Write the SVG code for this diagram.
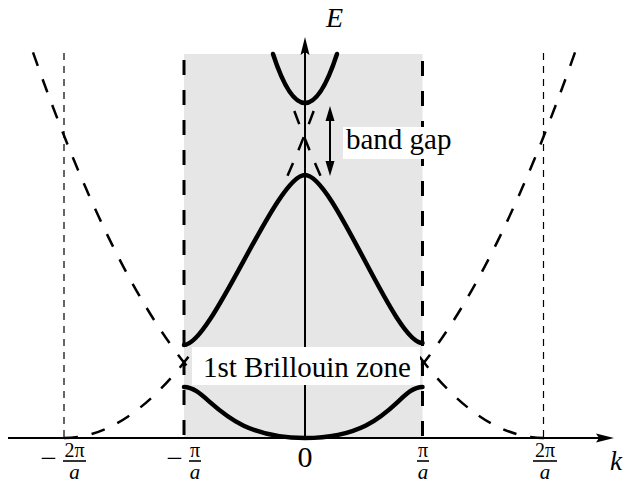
<svg xmlns="http://www.w3.org/2000/svg" width="623" height="483" viewBox="0 0 623 483">
<style>
.t{font-family:"Liberation Serif","Times New Roman",serif;fill:#000}
.it{font-style:italic}
.dc{fill:none;stroke:#000;stroke-width:2.5;stroke-dasharray:14 14}
.thin{fill:none;stroke:#000;stroke-width:1.2;stroke-dasharray:7 6}
.thick{fill:none;stroke:#000;stroke-width:3;stroke-dasharray:15 15}
.band{fill:none;stroke:#000;stroke-width:4.5;stroke-linecap:round}
.ax{fill:none;stroke:#000;stroke-width:2}
.bar{stroke:#000;stroke-width:1.6}
</style>
<rect width="623" height="483" fill="#fff"/>
<rect id="zone" x="184" y="54" width="238.5" height="384" fill="#e6e6e6"/>
<g id="guides">
<path class="thin" d="M64,53V438"/>
<path class="thin" d="M543.5,53V438"/>
</g>
<g id="free-electron">
<path class="dc" d="M33,52.4Q110.5,272.9 188,367.4"/>
<path class="dc" d="M575,52.4Q497.5,272.9 420,367.4"/>
<path class="dc" d="M64,438Q128,438 192,352"/>
<path class="dc" d="M544,438Q480,438 416,352"/>
<path class="dc" d="M287.5,175.8Q302.5,142 318,99.3"/>
<path class="dc" d="M320.5,175.8Q305.5,142 290,99.3"/>
</g>
<g id="zone-edges">
<path class="thick" d="M184,60V438"/>
<path class="thick" d="M422.5,61V438"/>
</g>
<g id="bands">
<path class="band" d="M184,387C209,387 221,438 305,438C389,438 397.5,387 422.5,387"/>
<path class="band" d="M184,345C212,345 276,175 305,175C334,175 394,343 422.5,343"/>
<path class="band" d="M273,54Q305,152 337,54"/>
</g>
<g id="axes">
<path class="ax" d="M8,438H600"/>
<polygon points="614,438 596,433.5 599,438 596,442.5" fill="#000"/>
<path class="ax" d="M305,439V50"/>
<polygon points="305,37 300.5,55 305,52 309.5,55" fill="#000"/>
<text class="t it" x="326" y="27" font-size="28">E</text>
<text class="t it" x="610" y="470" font-size="27">k</text>
</g>
<g id="connectors">
<path class="ax" d="M330,117V165"/>
<polygon points="330,106 325.5,121 334.5,121" fill="#000"/>
<polygon points="330,176 325.5,161 334.5,161" fill="#000"/>
</g>
<g id="label-gap">
<rect x="343" y="127" width="113" height="32" fill="#fff"/>
<text class="t" x="346" y="149" font-size="29">band gap</text>
</g>
<g id="label-zone">
<rect x="192" y="347" width="228" height="38" fill="#fff"/>
<text class="t" x="203" y="377" font-size="29">1st Brillouin zone</text>
</g>
<g id="ticks">
<text class="t" x="48.5" y="468" font-size="29" text-anchor="middle">−</text>
<text class="t" x="74.5" y="457" font-size="20" text-anchor="middle">2π</text>
<line class="bar" x1="63" y1="461" x2="86" y2="461"/>
<text class="t it" x="74.5" y="479" font-size="21" text-anchor="middle">a</text>
<text class="t" x="174.5" y="468" font-size="29" text-anchor="middle">−</text>
<text class="t" x="195" y="457" font-size="20" text-anchor="middle">π</text>
<line class="bar" x1="189" y1="461" x2="201" y2="461"/>
<text class="t it" x="195" y="479" font-size="21" text-anchor="middle">a</text>
<text class="t" x="305" y="467" font-size="30" text-anchor="middle">0</text>
<text class="t" x="423" y="457" font-size="20" text-anchor="middle">π</text>
<line class="bar" x1="417" y1="461" x2="429" y2="461"/>
<text class="t it" x="423" y="479" font-size="21" text-anchor="middle">a</text>
<text class="t" x="545" y="457" font-size="20" text-anchor="middle">2π</text>
<line class="bar" x1="533" y1="461" x2="557" y2="461"/>
<text class="t it" x="545" y="479" font-size="21" text-anchor="middle">a</text>
</g>
</svg>
